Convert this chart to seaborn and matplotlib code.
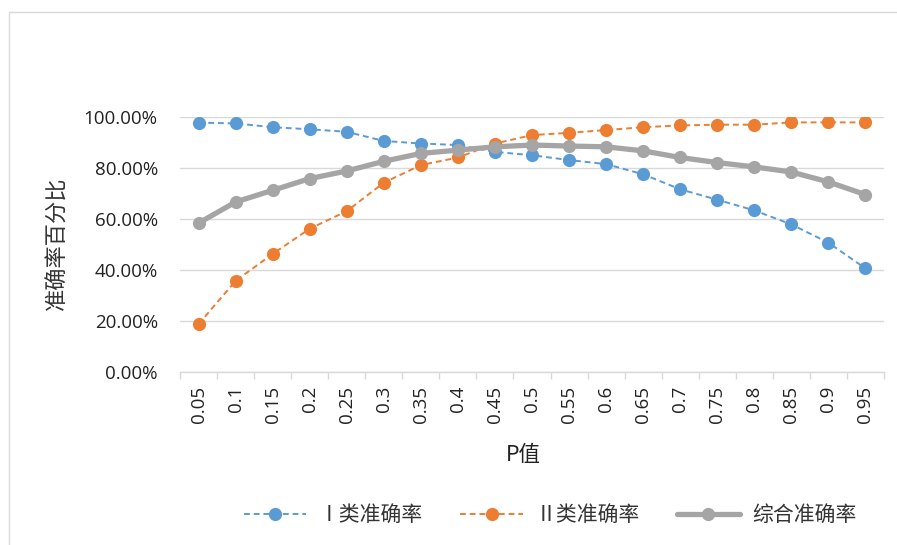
import matplotlib
matplotlib.use("Agg")
import matplotlib.pyplot as plt
from matplotlib.lines import Line2D
from matplotlib.patches import Rectangle
from matplotlib.ticker import PercentFormatter, FixedLocator
import seaborn as sns
import pandas as pd

# P thresholds and accuracy of each class (fractions)
p_values = ["0.05", "0.1", "0.15", "0.2", "0.25", "0.3", "0.35", "0.4", "0.45", "0.5",
            "0.55", "0.6", "0.65", "0.7", "0.75", "0.8", "0.85", "0.9", "0.95"]
class1_acc = [0.979, 0.976, 0.961, 0.953, 0.943, 0.907, 0.897, 0.891, 0.864, 0.851,
              0.832, 0.816, 0.776, 0.717, 0.676, 0.634, 0.579, 0.507, 0.406]
class2_acc = [0.187, 0.357, 0.463, 0.562, 0.631, 0.743, 0.812, 0.842, 0.897, 0.930,
              0.939, 0.950, 0.961, 0.968, 0.971, 0.971, 0.980, 0.980, 0.980]
overall_acc = [0.584, 0.667, 0.713, 0.759, 0.789, 0.827, 0.858, 0.871, 0.884, 0.891,
               0.887, 0.884, 0.868, 0.842, 0.822, 0.805, 0.785, 0.746, 0.696]
series_names = ["Ⅰ类准确率", "Ⅱ类准确率", "综合准确率"]

sns.set_theme(style="white")
cjk = ["Noto Sans CJK SC", "DejaVu Sans"]
num_font = ["Open Sans", "DejaVu Sans"]
plt.rcParams["font.family"] = cjk

W, H = 897, 545
fig = plt.figure(figsize=(W / 100, H / 100), dpi=100)
ax = fig.add_axes([180 / W, 1 - 371.7 / H, (884 - 180) / W, (371.7 - 117.3) / H])

df = pd.DataFrame({"P": p_values * 3,
                   "acc": class1_acc + class2_acc + overall_acc,
                   "series": [series_names[0]] * 19 + [series_names[1]] * 19 + [series_names[2]] * 19})

colors = {series_names[0]: "#5B9BD5", series_names[1]: "#ED7D31", series_names[2]: "#A5A5A5"}
styles = {series_names[0]: dict(lw=1.4, ls=(0, (3, 2)), z=3),
          series_names[1]: dict(lw=1.4, ls=(0, (3, 2)), z=4),
          series_names[2]: dict(lw=3.8, ls="-", z=5)}

for name in series_names:
    sub = df[df["series"] == name]
    st = styles[name]
    sns.lineplot(data=sub, x="P", y="acc", ax=ax, color=colors[name], lw=st["lw"],
                 linestyle=st["ls"], marker="o", markersize=9.5, markeredgewidth=0,
                 sort=False, zorder=st["z"], legend=False)

ax.set_xlim(-0.5, len(p_values) - 0.5)
ax.set_ylim(0, 1)
ax.set_yticks([0, 0.2, 0.4, 0.6, 0.8, 1.0])
ax.yaxis.set_major_formatter(PercentFormatter(1.0, decimals=2))
ax.grid(axis="y", color="#D9D9D9", lw=1)
ax.set_axisbelow(True)
for s in ["top", "right", "left"]:
    ax.spines[s].set_visible(False)
ax.spines["bottom"].set_color("#D9D9D9")
ax.spines["bottom"].set_linewidth(1)

ax.set_xticks(range(len(p_values)))
ax.set_xticklabels(p_values, rotation=90)
ax.xaxis.set_minor_locator(FixedLocator([i - 0.5 for i in range(len(p_values) + 1)]))
ax.tick_params(axis="x", which="major", length=0, pad=10)
ax.tick_params(axis="x", which="minor", length=5, width=1, color="#D9D9D9", bottom=True, direction="out")
ax.tick_params(axis="y", length=0, pad=16)
for lab in ax.get_xticklabels() + ax.get_yticklabels():
    lab.set_fontfamily(num_font)
    lab.set_fontsize(13.5)
    lab.set_color("#222222")
ax.set_xlabel("")
ax.set_ylabel("")

fig.text(57 / W, 1 - 243 / H, "准确率百分比", rotation=90, ha="center", va="center",
         fontsize=16, color="#333333", family=cjk)
fig.text(523 / W, 1 - 455 / H, "P值", ha="center", va="center",
         fontsize=15.5, color="#222222", family=cjk)

handles = [Line2D([], [], color=colors[n], lw=styles[n]["lw"], ls=styles[n]["ls"],
                  marker="o", markersize=9.5, markeredgewidth=0) for n in series_names]
fig.legend(handles, series_names, loc="center", bbox_to_anchor=(550 / W, 1 - 515 / H),
           ncol=3, frameon=False, fontsize=15, handlelength=3.0, handletextpad=0.6,
           columnspacing=1.8, labelcolor="#333333")

fig.patches.append(Rectangle((9 / W, -0.02), 1.0, 1 - 12 / H + 0.02, transform=fig.transFigure,
                             fill=False, edgecolor="#D9D9D9", lw=1))

fig.savefig("out.png", dpi=100)
